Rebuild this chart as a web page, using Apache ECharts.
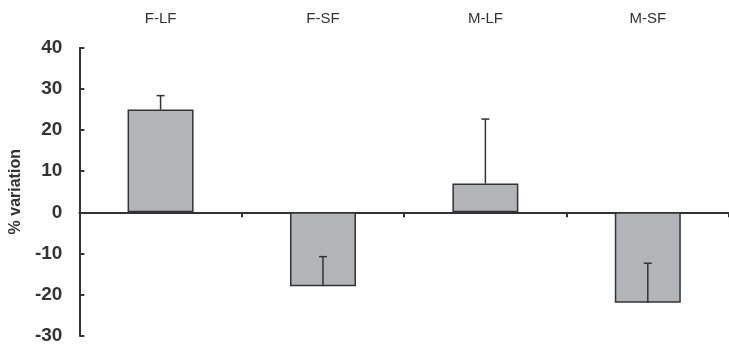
<!DOCTYPE html>
<html>
<head>
<meta charset="utf-8">
<script src="https://cdn.jsdelivr.net/npm/echarts@6/dist/echarts.min.js"></script>
<style>
html,body{margin:0;padding:0;background:#fff;}
#chart{width:729px;height:345px;}
</style>
</head>
<body>
<div id="chart"></div>
<script>
var categories = ['F-LF', 'F-SF', 'M-LF', 'M-SF'];
var values = [25, -18, 7, -22];
var errorEnds = [28.4, -10.8, 22.7, -12.4];
var yMin = -30, yMax = 40, yStep = 10;

var chart = echarts.init(document.getElementById('chart'), null, {renderer: 'canvas'});
var errData = values.map(function (v, i) { return [i, v, errorEnds[i]]; });

chart.setOption({
  animation: false,
  grid: {left: 76, right: -3, top: 48, bottom: 8, containLabel: false},
  xAxis: [{
    type: 'category',
    data: categories,
    position: 'bottom',
    axisLine: {onZero: true, lineStyle: {color: '#333', width: 2}},
    axisTick: {show: true, inside: false, length: 5, lineStyle: {color: '#333', width: 2}},
    axisLabel: {show: false},
    splitLine: {show: false}
  }, {
    type: 'category',
    data: categories,
    position: 'top',
    axisLine: {show: false, onZero: false},
    axisTick: {show: false},
    axisLabel: {show: true, margin: 22, fontSize: 15, color: '#333', fontFamily: 'Liberation Sans'},
    splitLine: {show: false}
  }],
  yAxis: {
    type: 'value',
    min: yMin, max: yMax, interval: yStep,
    name: '% variation',
    nameLocation: 'middle',
    nameGap: 53,
    nameRotate: 90,
    nameTextStyle: {fontSize: 16, fontWeight: 'bold', color: '#333', fontFamily: 'Liberation Sans'},
    axisLine: {show: true, lineStyle: {color: '#333', width: 2}},
    axisTick: {show: true, inside: true, length: 5, lineStyle: {color: '#333', width: 2}},
    axisLabel: {fontSize: 19, fontWeight: 'bold', color: '#333', margin: 17, fontFamily: 'Liberation Sans'},
    splitLine: {show: false}
  },
  series: [{
    type: 'bar',
    data: values,
    barWidth: 66,
    itemStyle: {color: '#b3b4b8', borderColor: '#333', borderWidth: 1.5},
    z: 2
  }, {
    type: 'custom',
    data: errData,
    z: 3,
    renderItem: function (params, api) {
      var p0 = api.coord([api.value(0), api.value(1)]);
      var p1 = api.coord([api.value(0), api.value(2)]);
      var style = {stroke: '#333', lineWidth: 1.5};
      return {
        type: 'group',
        children: [
          {type: 'line', shape: {x1: p0[0], y1: p0[1], x2: p1[0], y2: p1[1]}, style: style},
          {type: 'line', shape: {x1: p1[0] - 4, y1: p1[1], x2: p1[0] + 4, y2: p1[1]}, style: style}
        ]
      };
    }
  }]
});
</script>
</body>
</html>
